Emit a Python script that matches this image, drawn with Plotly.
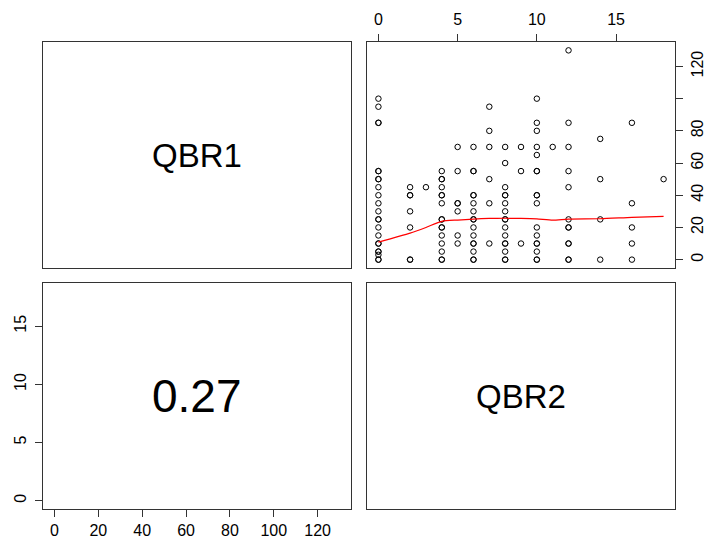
import plotly.graph_objects as go

# Data: QBR2 (x) vs QBR1 (y), repeated entries where points overlap
qbr2 = ([0]*23 + [2]*7 + [3] + [4]*16 + [5]*7 + [6]*16 + [7]*6 + [8]*16 + [9]*3
        + [10]*17 + [11] + [12]*12 + [14]*4 + [16]*5 + [18])
qbr1 = ([100, 95, 85, 85, 55, 55, 50, 50, 45, 40, 35, 30, 25, 25, 20, 15, 10, 10, 5, 5, 3, 0, 0]
        + [45, 40, 40, 30, 20, 0, 0]
        + [45]
        + [55, 50, 50, 45, 40, 40, 35, 25, 25, 20, 20, 15, 10, 5, 0, 0]
        + [70, 55, 35, 35, 30, 15, 10]
        + [70, 55, 55, 40, 40, 35, 30, 25, 25, 20, 15, 10, 10, 5, 0, 0]
        + [95, 80, 70, 50, 35, 10]
        + [70, 60, 45, 40, 40, 35, 30, 25, 25, 20, 15, 10, 10, 5, 0, 0]
        + [70, 55, 10]
        + [100, 85, 80, 70, 65, 55, 55, 40, 40, 35, 20, 15, 10, 10, 5, 0, 0]
        + [70]
        + [130, 85, 70, 55, 45, 25, 20, 20, 10, 10, 0, 0]
        + [75, 50, 25, 0]
        + [85, 35, 20, 10, 0]
        + [50])

# lowess smooth
smooth_x = [0, 2, 3, 4, 5, 6, 7, 8, 9, 10, 11, 12, 14, 16, 18]
smooth_y = [10.9, 16.5, 20.0, 23.8, 24.6, 25.2, 25.6, 25.7, 25.6, 25.3, 24.5, 25.2, 25.4, 26.3, 26.9]

var_names = ["QBR1", "QBR2"]
corr_text = "0.27"

x_ticks_qbr2 = [0, 5, 10, 15]
y_ticks_qbr1 = [0, 20, 40, 60, 80, 100, 120]
y_ticktext_qbr1 = ["0", "20", "40", "60", "80", "", "120"]
x_ticks_qbr1 = [0, 20, 40, 60, 80, 100, 120]
y_ticks_qbr2 = [0, 5, 10, 15]

W, H = 707, 541
FONT = "Liberation Sans, Arial, sans-serif"
LINE = "#333333"

def dx(a, b):
    return [a / W, b / W]

def dy(top, bottom):
    return [(H - bottom) / H, (H - top) / H]

colL, colR = dx(43, 351), dx(367, 675)
rowT, rowB = dy(42, 268), dy(283, 509)

fig = go.Figure()

fig.add_trace(go.Scatter(x=qbr2, y=qbr1, mode="markers", xaxis="x2", yaxis="y2",
                         marker=dict(symbol="circle-open", size=5.5, color="black",
                                     line=dict(width=1, color="black")),
                         showlegend=False, hoverinfo="skip"))
fig.add_trace(go.Scatter(x=smooth_x, y=smooth_y, mode="lines", xaxis="x2", yaxis="y2",
                         line=dict(color="red", width=1.2, shape="spline", smoothing=0.6),
                         showlegend=False, hoverinfo="skip"))
fig.add_trace(go.Scatter(x=[None], y=[None], xaxis="x3", yaxis="y3", showlegend=False))
fig.add_trace(go.Scatter(x=[None], y=[None], xaxis="x", yaxis="y", showlegend=False))
fig.add_trace(go.Scatter(x=[None], y=[None], xaxis="x4", yaxis="y4", showlegend=False))

box = dict(showline=True, mirror=True, linecolor=LINE, linewidth=1, showgrid=False,
           zeroline=False, automargin=False)
blank = dict(box, showticklabels=False, ticks="", range=[0, 1])
tickfont = dict(family=FONT, size=16, color="black")
tk = dict(ticks="outside", ticklen=7, tickwidth=1, tickcolor=LINE, tickfont=tickfont)

fig.update_layout(
    width=W, height=H, margin=dict(l=0, r=0, t=0, b=0, autoexpand=False),
    paper_bgcolor="white", plot_bgcolor="white",
    xaxis=dict(blank, domain=colL, anchor="y"),
    yaxis=dict(blank, domain=rowT, anchor="x"),
    xaxis4=dict(blank, domain=colR, anchor="y4"),
    yaxis4=dict(blank, domain=rowB, anchor="x4"),
    xaxis2=dict(box, **tk, domain=colR, anchor="y2", side="top",
                range=[-0.72, 18.72], tickvals=x_ticks_qbr2, ticklabelstandoff=3),
    yaxis2=dict(box, **tk, domain=rowT, anchor="x2", side="right",
                range=[-5.2, 135.2], tickvals=y_ticks_qbr1, ticktext=y_ticktext_qbr1,
                tickangle=-90, ticklabelstandoff=1),
    xaxis3=dict(box, **tk, domain=colL, anchor="y3", side="bottom",
                range=[-5.2, 135.2], tickvals=x_ticks_qbr1),
    yaxis3=dict(box, **tk, domain=rowB, anchor="x3", side="left",
                range=[-0.72, 18.72], tickvals=y_ticks_qbr2, tickangle=-90,
                ticklabelstandoff=3),
    annotations=[
        dict(text=var_names[0], xref="x domain", yref="y domain", x=0.5, y=0.5,
             showarrow=False, font=dict(family=FONT, size=33, color="black")),
        dict(text=var_names[1], xref="x4 domain", yref="y4 domain", x=0.5, y=0.5,
             showarrow=False, font=dict(family=FONT, size=33, color="black")),
        dict(text=corr_text, xref="x3 domain", yref="y3 domain", x=0.5, y=0.5,
             showarrow=False, font=dict(family=FONT, size=46, color="black")),
    ],
)

fig.write_html("out.html")
